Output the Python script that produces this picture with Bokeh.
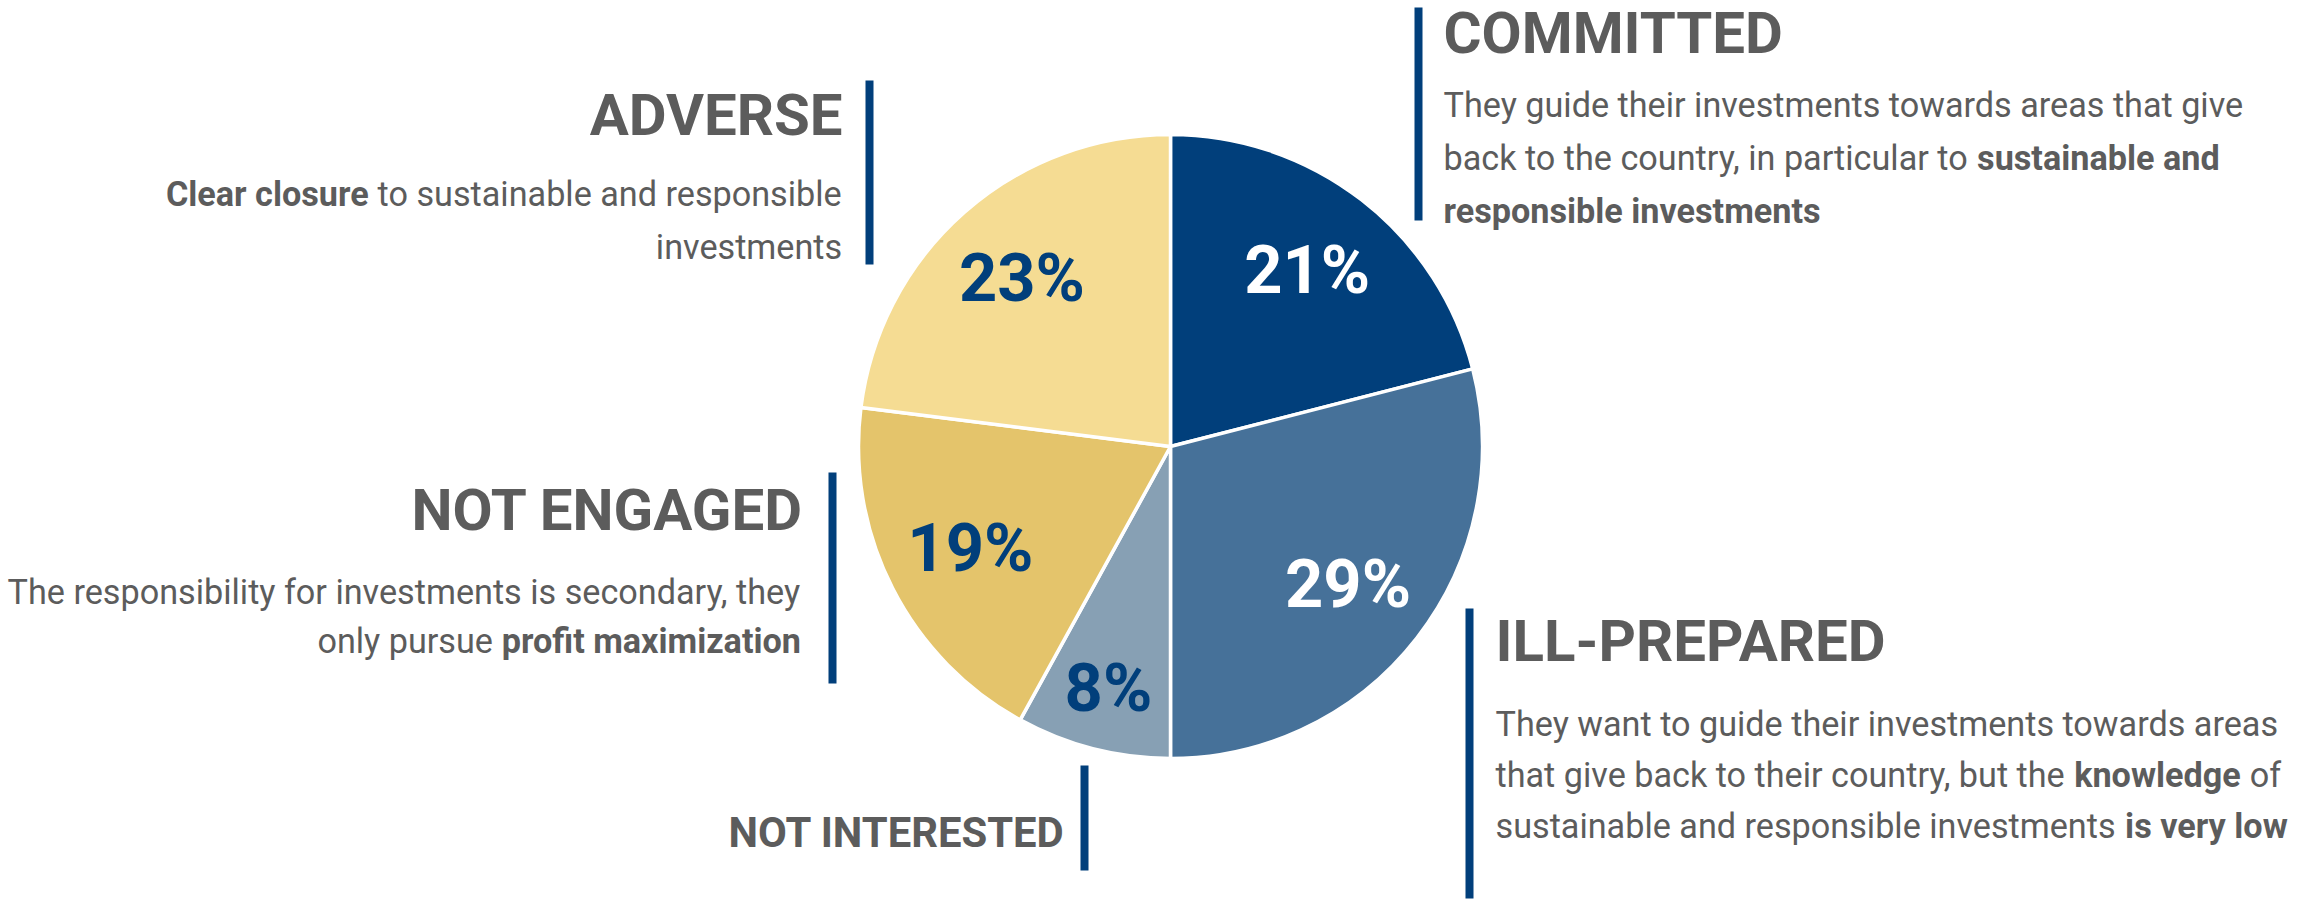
import glob
import os
import math
import subprocess

from bokeh.plotting import figure
from bokeh.models import Range1d, ColumnDataSource
from bokeh.embed import file_html
from bokeh.resources import INLINE
from bokeh.core.properties import value

# ---------------- data ----------------
segments = ["COMMITTED", "ILL-PREPARED", "NOT INTERESTED", "NOT ENGAGED", "ADVERSE"]
shares = [21, 29, 8, 19, 23]
slice_colors = ["#013F7B", "#467199", "#87A0B4", "#E4C46B", "#F5DC93"]
pct_colors = ["#FFFFFF", "#FFFFFF", "#013F7B", "#013F7B", "#013F7B"]

committed_desc = [
    [("They guide their investments towards areas that give", False)],
    [("back to the country, in particular to", False), ("sustainable and", True)],
    [("responsible investments", True)],
]
ill_prepared_desc = [
    [("They want to guide their investments towards areas", False)],
    [("that give back to their country, but the", False), ("knowledge", True), ("of", False)],
    [("sustainable and responsible investments", False), ("is very low", True)],
]
adverse_desc = [
    [("Clear closure", True), ("to sustainable and responsible", False)],
    [("investments", False)],
]
not_engaged_desc = [
    [("The responsibility for investments is secondary, they", False)],
    [("only pursue", False), ("profit maximization", True)],
]
not_interested_desc = []

# ---------------- style / layout ----------------
FONT = "Roboto"
TEXT_GREY = "#5C5C5C"
BAR_BLUE = "#013F7B"
W, H = 2321, 900
CAP_MID = 0.355   # half of the cap height, in em


def Y(y):
    # reference pixel row -> data y (y up)
    return H - y


def font_file(bold):
    style = "Bold" if bold else "Regular"
    roots = ["/usr/share/fonts", "/usr/local/share/fonts",
             os.path.expanduser("~/.local/share/fonts"), os.path.expanduser("~/.fonts")]
    for r in roots:
        for ext in ("ttf", "otf", "TTF"):
            hits = sorted(glob.glob(f"{r}/**/{FONT}-{style}.{ext}", recursive=True))
            if hits:
                return hits[0], False
    try:
        out = subprocess.run(["fc-match", "-f", "%{file}", f"{FONT}:{'bold' if bold else 'regular'}"],
                             capture_output=True, text=True, timeout=5).stdout.strip()
        if out and os.path.exists(out):
            return out, True
    except Exception:
        pass
    return None, False


FONT_FILES = {False: font_file(False), True: font_file(True)}
_fonts = {}


def _load(bold):
    if bold in _fonts:
        return _fonts[bold]
    path, maybe_var = FONT_FILES[bold]
    f = None
    if path:
        try:
            from PIL import ImageFont
            f = ImageFont.truetype(path, 200)
            if maybe_var:
                try:
                    f.set_variation_by_name("Bold" if bold else "Regular")
                except Exception:
                    pass
        except Exception:
            f = None
    _fonts[bold] = f
    return f


def text_w(s, size, bold):
    f = _load(bold)
    if f is not None:
        try:
            return f.getlength(s) * size / 200.0
        except Exception:
            pass
    return len(s) * size * (0.55 if bold else 0.5)


# font sizes fitted to the reference's text widths
SUB = 801 / text_w("They guide their investments towards areas that give", 1, False)
TITLE = 390 / text_w("NOT ENGAGED", 1, True)
SMALL_TITLE = 335 / text_w("NOT INTERESTED", 1, True)
PCT = 126 / text_w("21%", 1, True)

p = figure(width=W, height=H, output_backend="svg", toolbar_location=None,
           x_range=Range1d(0, W), y_range=Range1d(0, H),
           x_axis_location=None, y_axis_location=None, min_border=0,
           background_fill_color="white", border_fill_color="white")
p.grid.visible = False
p.outline_line_color = None

# ---------------- pie ----------------
CX, CY, R = 1170, 446, 312
total = float(sum(shares))
cum = [0.0]
for s in shares:
    cum.append(cum[-1] + s / total)
starts = [math.pi / 2 - 2 * math.pi * c for c in cum[:-1]]
ends = [math.pi / 2 - 2 * math.pi * c for c in cum[1:]]
src = ColumnDataSource(dict(seg=segments, share=shares, start=starts, end=ends, color=slice_colors))
p.wedge(x=CX, y=Y(CY), radius=R, start_angle="start", end_angle="end", direction="clock",
        fill_color="color", line_color="white", line_width=3.5, source=src)

label_r = [0.715, 0.72, 0.80, 0.72, 0.72]
mids = [(a + b) / 2 for a, b in zip(starts, ends)]
lx = [CX + R * f * math.cos(m) for f, m in zip(label_r, mids)]
ly = [Y(CY) + R * f * math.sin(m) for f, m in zip(label_r, mids)]
lsrc = ColumnDataSource(dict(x=lx, y=ly, t=[f"{s}%" for s in shares], c=pct_colors))
p.text(x="x", y="y", text="t", text_color="c", source=lsrc, text_font=value(FONT),
       text_font_style="bold", text_font_size=f"{PCT:.1f}px",
       text_align="center", text_baseline="middle")


# ---------------- annotation blocks ----------------
def draw_line(parts, x, base, size, align):
    space = text_w(" ", size, False)
    widths = [text_w(t, size, b) for t, b in parts]
    total_w = sum(widths) + space * (len(parts) - 1)
    cur = x if align == "left" else x - total_w
    ymid = Y(base - CAP_MID * size)
    for (t, b), w in zip(parts, widths):
        p.text(x=[cur], y=[ymid], text=[t], text_font=value(FONT),
               text_font_style="bold" if b else "normal", text_font_size=f"{size:.1f}px",
               text_color=TEXT_GREY, text_align="left", text_baseline="middle")
        cur += w + space


def block(title, desc, x, title_base, line_bases, align, tsize):
    draw_line([(title, True)], x, title_base, tsize, align)
    for parts, yb in zip(desc, line_bases):
        draw_line(parts, x, yb, SUB, align)


def bar(x, y0, y1):
    p.quad(left=x - 4, right=x + 4, top=Y(y0), bottom=Y(y1),
           fill_color=BAR_BLUE, line_color=None)


block(segments[0], committed_desc, 1443, 53, [117, 170, 223], "left", TITLE)
bar(1418, 7, 220)
block(segments[1], ill_prepared_desc, 1495, 661, [736, 787, 838], "left", TITLE)
bar(1469, 608, 898)
block(segments[4], adverse_desc, 842, 135, [206, 259], "right", TITLE)
bar(869, 80, 264)
block(segments[3], not_engaged_desc, 801, 530, [604, 653], "right", TITLE)
bar(832, 472, 683)
block(segments[2], not_interested_desc, 1063, 847, [], "right", SMALL_TITLE)
bar(1084, 765, 870)

open("out.html", "w").write(file_html(p, INLINE))
